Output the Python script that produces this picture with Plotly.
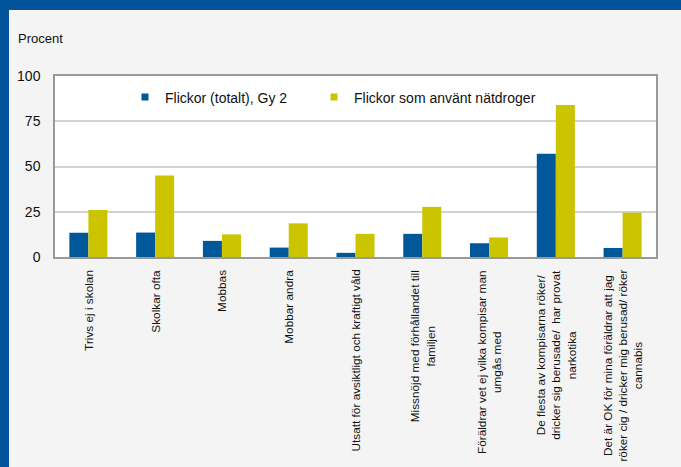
import plotly.graph_objects as go

categories = [
    "Trivs ej i skolan",
    "Skolkar ofta",
    "Mobbas",
    "Mobbar andra",
    "Utsatt för avsiktligt och kraftigt våld",
    "Missnöjd med förhållandet till<br>familjen",
    "Föräldrar vet ej vilka kompisar man<br>umgås med",
    "De flesta av kompisarna röker/<br>dricker sig berusade/  har provat<br>narkotika",
    "Det är OK för mina föräldrar att jag<br>röker cig / dricker mig berusad/ röker<br>cannabis",
]
series_names = ["Flickor (totalt), Gy 2", "Flickor som använt nätdroger"]
flickor_totalt = [13.4, 13.5, 8.9, 5.2, 2.3, 12.8, 7.6, 57, 5]
flickor_natdroger = [26, 45, 12.5, 18.6, 12.8, 27.7, 10.8, 84, 24.5]
y_ticks = [0, 25, 50, 75, 100]

BLUE = "#00589b"
YELLOW = "#cbc500"
FRAME = "#00559a"
FONT = "Arial, Liberation Sans, sans-serif"

W, H = 681, 467
ML, MR, MT, MB = 55, 25, 76, 210
PW, PH = W - ML - MR, H - MT - MB

def px_to_paper_x(px):
    return (px - ML) / PW

def px_to_paper_y(py):
    return 1 + (MT - py) / PH

x_idx = list(range(len(categories)))

fig = go.Figure()
fig.add_trace(go.Bar(x=x_idx, y=flickor_totalt, name=series_names[0],
                     marker=dict(color=BLUE, line=dict(width=0)), showlegend=False))
fig.add_trace(go.Bar(x=x_idx, y=flickor_natdroger, name=series_names[1],
                     marker=dict(color=YELLOW, line=dict(width=0)), showlegend=False))
# legend entries (small square keys), one legend per series for exact spacing
for name, col, lg in zip(series_names, [BLUE, YELLOW], ["legend", "legend2"]):
    fig.add_trace(go.Scatter(x=[None], y=[None], mode="markers", name=name, legend=lg,
                             marker=dict(symbol="square", size=7, color=col)))

annotations = [
    dict(text="Procent", xref="paper", yref="paper", x=px_to_paper_x(16), y=px_to_paper_y(38),
         xanchor="left", yanchor="middle", showarrow=False, font=dict(size=13, color="#111", family=FONT))
]
for i, cat in enumerate(categories):
    annotations.append(dict(
        text=cat, x=i, xref="x", yref="paper", y=px_to_paper_y(268), yanchor="top", xanchor="center",
        textangle=-90, align="center", showarrow=False,
        font=dict(size=11.8, color="#111", family=FONT)))

shapes = [
    dict(type="rect", xref="paper", yref="paper", x0=px_to_paper_x(0), x1=px_to_paper_x(W),
         y0=px_to_paper_y(10), y1=px_to_paper_y(0), fillcolor=FRAME, line=dict(width=0), layer="above"),
    dict(type="rect", xref="paper", yref="paper", x0=px_to_paper_x(0), x1=px_to_paper_x(9),
         y0=px_to_paper_y(H), y1=px_to_paper_y(0), fillcolor=FRAME, line=dict(width=0), layer="above"),
]

legend_common = dict(orientation="h", y=px_to_paper_y(97.5), xanchor="left", yanchor="middle",
                     bgcolor="rgba(0,0,0,0)", font=dict(size=14, family=FONT, color="#111"), itemwidth=30)

fig.update_layout(
    width=W, height=H,
    margin=dict(l=ML, r=MR, t=MT, b=MB, pad=0),
    paper_bgcolor="#f4f4f4", plot_bgcolor="white",
    font=dict(family=FONT, color="#111"),
    barmode="group", bargap=0.43, bargroupgap=0,
    showlegend=True,
    legend=dict(x=px_to_paper_x(125), **legend_common),
    legend2=dict(x=px_to_paper_x(314), **legend_common),
    xaxis=dict(range=[-0.5, len(categories) - 0.5], showticklabels=False, ticks="",
               showline=True, linecolor="#999999", linewidth=1.5, mirror=True, showgrid=False, zeroline=False),
    yaxis=dict(range=[0, 100], tickvals=y_ticks, ticks="", ticklabelstandoff=10,
               tickfont=dict(size=14, family=FONT, color="#111"),
               showline=True, linecolor="#999999", linewidth=1.5, mirror=True,
               showgrid=True, gridcolor="#d2d2d2", gridwidth=1.5, zeroline=False),
    annotations=annotations,
    shapes=shapes,
)

fig.write_html("out.html", config={"displayModeBar": False},
               post_script="document.body.style.margin='0';document.body.style.overflow='hidden';")
